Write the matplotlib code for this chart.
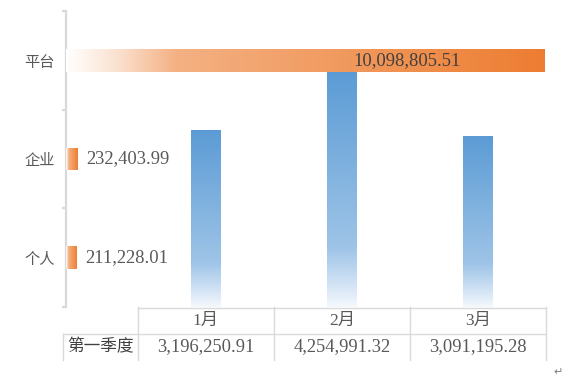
import numpy as np
import matplotlib.pyplot as plt
from matplotlib.colors import LinearSegmentedColormap
from matplotlib.lines import Line2D

plt.rcParams['font.family'] = ['Noto Sans CJK SC', 'DejaVu Sans']

# data
channels = ['个人', '企业', '平台']
channel_vals = [211228.01, 232403.99, 10098805.51]
months = ['1月', '2月', '3月']
month_vals = [3196250.91, 4254991.32, 3091195.28]
row_label = '第一季度'

W, H = 582, 383
fig = plt.figure(figsize=(W / 100, H / 100), dpi=100)

def fx(px):
    return px / W

def fy(py):
    return 1 - py / H

txt = '#595959'
grid = '#d9d9d9'
num_font = ['Liberation Serif', 'Noto Sans CJK SC']

def fmt(v):
    return f'{v:,.2f}'

# monthly columns (blue, fading to white at the bottom)
axv = fig.add_axes([fx(138), fy(307), fx(546 - 138), (307 - 11) / H])
blue = LinearSegmentedColormap.from_list(
    'b', [(0, '#f4f8fd'), (0.1, '#d0e2f4'), (0.25, '#9ec4e7'), (1, '#5b9bd5')])
cols = axv.bar(range(len(months)), month_vals, width=0.22, color='none')
gv = np.linspace(0, 1, 256).reshape(-1, 1)
for b in cols:
    x0, w, h = b.get_x(), b.get_width(), b.get_height()
    im = axv.imshow(gv, cmap=blue, origin='lower', aspect='auto',
                    extent=[x0, x0 + w, 0, h], zorder=2)
    im.set_clip_path(b)
axv.set_xlim(-0.5, 2.5)
axv.set_ylim(0, 5.34e6)
axv.axis('off')

# channel bars (orange, fading from white on the left)
axh = fig.add_axes([fx(66), fy(307), fx(546 - 66), (307 - 11) / H])
axh.patch.set_alpha(0)
orange = LinearSegmentedColormap.from_list(
    'o', [(0, '#ffffff'), (0.1, '#fbe3d3'), (0.23, '#f4b183'), (1, '#ed7d31')])
bars = axh.barh(range(len(channels)), channel_vals, height=0.23, color='none')
gh = np.linspace(0, 1, 256).reshape(1, -1)
for b in bars:
    y0, w, h = b.get_y(), b.get_width(), b.get_height()
    im = axh.imshow(gh, cmap=orange, aspect='auto',
                    extent=[0, w, y0, y0 + h], zorder=3)
    im.set_clip_path(b)
axh.set_xlim(0, 10.12e6)
axh.set_ylim(-0.5, 2.5)

for s in ['top', 'right', 'bottom']:
    axh.spines[s].set_visible(False)
axh.spines['left'].set_color(grid)
axh.spines['left'].set_linewidth(1.6)
axh.set_xticks([])
axh.set_yticks(range(len(channels)))
axh.set_yticklabels(channels, fontsize=11, color=txt)
axh.tick_params(axis='y', which='major', length=0, pad=8)
axh.set_yticks(np.arange(-0.5, 3, 1), minor=True)
axh.tick_params(axis='y', which='minor', length=3, width=1.6, color=grid)

for i, v in enumerate(channel_vals):
    if v > 5e6:
        axh.annotate(fmt(v), xy=(v, i), xytext=(-61, 0), textcoords='offset points',
                     ha='right', va='center', fontsize=13.3, color='#404040',
                     family=num_font, zorder=5)
    else:
        axh.annotate(fmt(v), xy=(v, i), xytext=(6.5, 0), textcoords='offset points',
                     ha='left', va='center', fontsize=13.3, color=txt,
                     family=num_font, zorder=5)

# data table below
def line(xs, ys):
    fig.add_artist(Line2D([fx(x) for x in xs], [fy(y) for y in ys],
                          color=grid, lw=1.0))

edges = [138, 274, 410, 546]
line([138, 546], [307.5, 307.5])
line([63, 546], [334, 334])
for x in edges:
    line([x, x], [307, 360])
line([63, 63], [334, 360])

for i, m in enumerate(months):
    cx = (edges[i] + edges[i + 1]) / 2
    fig.text(fx(cx), fy(321), m, ha='center', va='center', fontsize=12.5,
             color=txt, family=num_font)
    fig.text(fx(cx), fy(347), fmt(month_vals[i]), ha='center', va='center',
             fontsize=13.3, color=txt, family=num_font)
fig.text(fx(100), fy(347), row_label, ha='center', va='center', fontsize=12,
         color='#404040')
fig.text(fx(558), fy(372), '↵', ha='center', va='center', fontsize=8,
         color='#808080', family=['DejaVu Sans'])

fig.savefig('out.png', dpi=100)
